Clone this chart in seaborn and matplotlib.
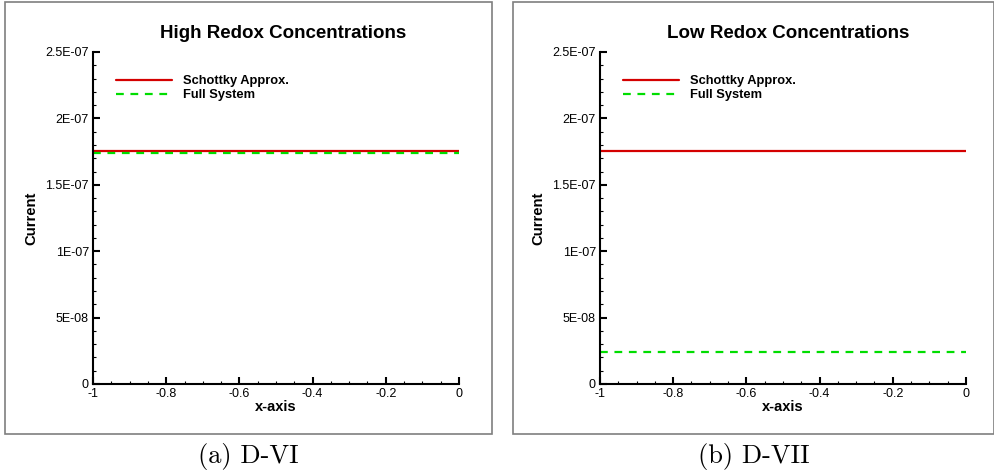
import numpy as np
import pandas as pd
import seaborn as sns
import matplotlib.pyplot as plt
from matplotlib.patches import Rectangle
from matplotlib.ticker import MultipleLocator

# data
x_vals = [-1.0, 0.0]
series_names = ["Schottky Approx.", "Full System"]
high_schottky = [1.752e-07, 1.752e-07]
high_full = [1.743e-07, 1.743e-07]
low_schottky = [1.752e-07, 1.752e-07]
low_full = [2.4e-08, 2.4e-08]

titles = ["High Redox Concentrations", "Low Redox Concentrations"]
captions = ["(a) D-VI", "(b) D-VII"]
ytick_vals = [0, 5e-08, 1e-07, 1.5e-07, 2e-07, 2.5e-07]
ytick_labels = ["0", "5E-08", "1E-07", "1.5E-07", "2E-07", "2.5E-07"]
xtick_vals = [-1, -0.8, -0.6, -0.4, -0.2, 0]
xtick_labels = ["-1", "-0.8", "-0.6", "-0.4", "-0.2", "0"]

sns.set_style("ticks")
plt.rcParams['font.family'] = ['Liberation Sans', 'DejaVu Sans']
plt.rcParams['text.color'] = 'black'
plt.rcParams['axes.labelcolor'] = 'black'
plt.rcParams['xtick.color'] = 'black'
plt.rcParams['ytick.color'] = 'black'
plt.rcParams['axes.edgecolor'] = 'black'


def make_frame(schottky, full):
    rows = []
    for name, vals in zip(series_names, [schottky, full]):
        for xv, yv in zip(x_vals, vals):
            rows.append({"x": xv, "Current": yv, "series": name})
    return pd.DataFrame(rows)


fig = plt.figure(figsize=(9.95, 4.75), dpi=100)

# gray frames round each panel
fig.patches.append(Rectangle((5 / 995, 1 - 434 / 475), 487 / 995, 432 / 475,
                             transform=fig.transFigure, fill=False,
                             edgecolor="#7f7f7f", linewidth=1.2))
fig.patches.append(Rectangle((513 / 995, 1 - 434 / 475), 481 / 995, 432 / 475,
                             transform=fig.transFigure, fill=False,
                             edgecolor="#7f7f7f", linewidth=1.2))

ax_lefts = [93 / 995, 600 / 995]
title_x = [0.52, 0.514]
datasets = [(high_schottky, high_full), (low_schottky, low_full)]
palette = {"Schottky Approx.": "#d40000", "Full System": "#00dd00"}
dashes = {"Schottky Approx.": "", "Full System": (3.5, 3)}

for i in range(2):
    ax = fig.add_axes([ax_lefts[i], 1 - 384 / 475, 366 / 995, 332 / 475])
    df = make_frame(*datasets[i])
    sns.lineplot(data=df, x="x", y="Current", hue="series", style="series",
                 palette=palette, dashes=dashes, linewidth=1.6, ax=ax)
    ax.set_xlim(-1, 0)
    ax.set_ylim(0, 2.5e-07)
    ax.set_xticks(xtick_vals)
    ax.set_xticklabels(xtick_labels)
    ax.set_yticks(ytick_vals)
    ax.set_yticklabels(ytick_labels)
    ax.xaxis.set_minor_locator(MultipleLocator(0.05))
    ax.yaxis.set_minor_locator(MultipleLocator(1e-08))
    ax.tick_params(which="major", direction="in", length=5, width=1.5,
                   labelsize=9, pad=3)
    ax.tick_params(which="minor", direction="in", length=2.5, width=0.8)
    for side in ["top", "right"]:
        ax.spines[side].set_visible(False)
    for side in ["left", "bottom"]:
        ax.spines[side].set_linewidth(1.5)
    ax.set_title(titles[i], fontsize=13.5, fontweight="bold", pad=10, x=title_x[i])
    ax.set_xlabel("x-axis", fontsize=10.5, fontweight="bold", labelpad=0)
    ax.set_ylabel("Current", fontsize=10.7, fontweight="bold", labelpad=5)
    leg = ax.legend(loc="upper left", bbox_to_anchor=(0.03, 0.965), frameon=False,
                    fontsize=9.3, handlelength=4.4, handletextpad=0.8,
                    labelspacing=0.15)
    for t in leg.get_texts():
        t.set_fontweight("bold")

fig.text(248 / 995, 1 - 457 / 475, captions[0], ha="center", va="center",
         fontsize=19, family="cmr10")
fig.text(754 / 995, 1 - 457 / 475, captions[1], ha="center", va="center",
         fontsize=19, family="cmr10")

fig.savefig("out.png", dpi=100)
